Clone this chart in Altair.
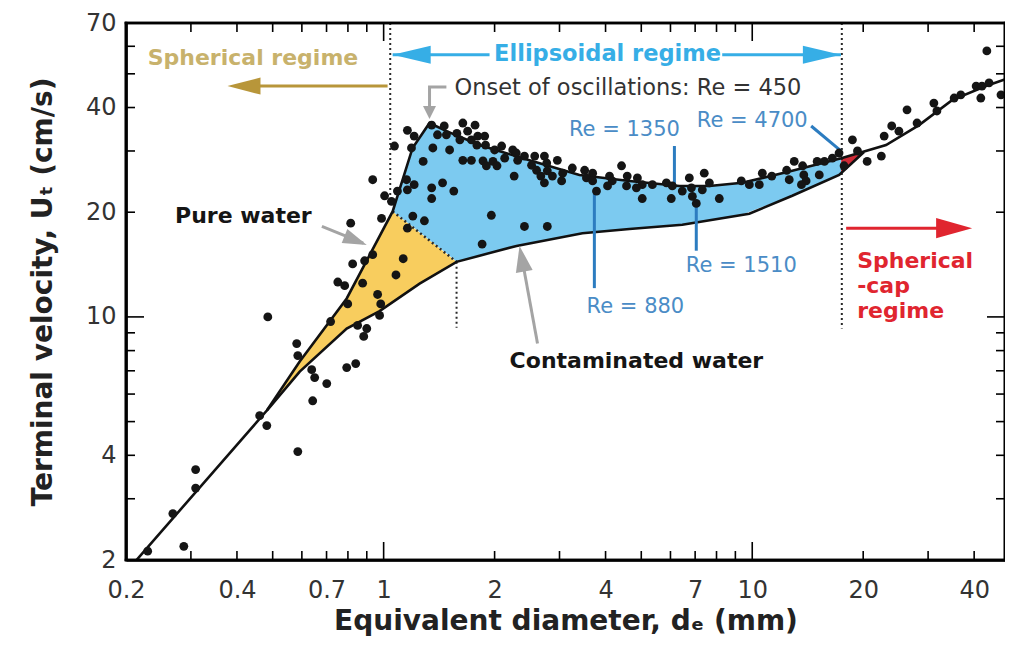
import altair as alt
import pandas as pd

# ---------------- data ----------------
# measured bubbles: equivalent diameter d (mm), terminal velocity U (cm/s)
pts_d = [0.485, 0.581, 0.585, 0.638, 0.650, 0.701, 0.642, 0.794, 0.840, 0.718, 0.799, 0.850, 0.900, 0.883,
         0.461, 0.482, 0.585, 0.309, 0.309, 0.268, 0.287, 0.229,
         0.934, 1.006, 1.05, 1.09, 1.154, 1.21, 1.16, 1.28, 1.35, 1.35, 1.445, 1.55, 1.20, 1.29, 1.16, 0.987,
         0.814, 1.13, 1.08, 0.934, 0.824, 0.888, 0.751, 0.784, 0.877, 0.963, 0.982, 0.975, 1.96, 1.85, 1.64,
         1.73, 1.86, 1.98,
         1.35, 1.46, 1.16, 1.21, 1.07, 1.19, 1.40, 1.48, 1.64, 1.77, 1.58, 1.69, 1.61, 1.73, 1.80, 1.88, 1.79,
         1.89, 1.36, 1.51, 2.0, 2.09, 2.24, 2.29, 2.41, 2.57, 2.73, 2.96, 2.77, 2.52, 2.31, 2.13, 2.03, 1.90,
         2.78, 2.60, 2.67, 2.87, 3.06, 2.73, 3.04, 3.25, 3.51, 3.69, 3.55, 3.69, 3.78, 4.10, 4.17, 4.05, 4.42,
         4.58, 4.88, 5.03, 4.56, 4.85, 5.03, 5.36, 5.85, 6.07, 6.03, 2.26, 2.41, 2.78,
         6.46, 6.75, 6.84, 6.88, 7.05, 7.32, 7.41, 7.65, 8.14, 9.34, 9.82, 10.45, 10.65, 11.3, 12.4, 13.0,
         12.6, 13.7, 13.8, 14.0, 13.6, 15.0, 15.2, 16.5, 17.2, 17.75, 18.7, 19.3,
         20.5, 22.4, 22.8, 23.9, 25.0, 26.3, 28.0, 31.1, 31.7, 35.3, 36.8, 40.5, 42.0, 41.7, 43.3, 43.9, 47.3, 15.7]
pts_u = [10.0, 8.38, 7.74, 7.05, 6.69, 6.43, 5.74, 7.15, 7.34, 9.70, 10.9, 9.45, 9.26, 8.79,
         5.20, 4.87, 4.10, 3.64, 3.22, 2.72, 2.19, 2.12,
         24.8, 22.3, 21.5, 23.0, 24.8, 24.0, 23.2, 28.0, 23.5, 21.9, 24.3, 23.0, 19.5, 18.9, 18.0, 19.2,
         18.6, 14.7, 13.2, 15.1, 14.2, 14.5, 12.6, 12.3, 12.5, 11.6, 10.9, 10.1, 19.6, 16.2, 28.2,
         28.2, 28.1, 28.0,
         35.6, 35.4, 34.4, 33.1, 31.0, 30.6, 33.4, 33.4, 36.1, 35.6, 33.7, 34.2, 32.3, 32.3, 33.1, 33.1, 31.2,
         31.2, 30.6, 30.2, 30.2, 31.0, 30.2, 29.6, 29.0, 29.0, 29.0, 28.2, 27.7, 27.3, 28.2, 28.6, 27.2, 27.2,
         26.3, 26.4, 25.4, 25.4, 25.9, 24.3, 24.6, 26.8, 26.4, 25.9, 25.1, 24.6, 23.0, 25.4, 24.6, 23.8, 27.2,
         25.4, 25.1, 24.0, 23.8, 23.5, 21.9, 24.0, 24.3, 23.8, 21.9, 25.4, 18.2, 18.2,
         23.0, 25.1, 23.5, 22.2, 21.2, 23.2, 25.9, 24.3, 21.9, 24.6, 24.0, 24.0, 25.9, 25.4, 26.4, 28.0,
         24.8, 27.2, 25.6, 24.6, 24.0, 28.0, 25.6, 28.6, 29.6, 27.2, 32.3, 30.0,
         28.0, 29.0, 33.1, 35.4, 34.2, 39.4, 36.1, 41.2, 39.1, 42.6, 43.5, 46.1, 46.1, 42.6, 58.2, 47.1, 43.5, 28.0]

# pure-water curve
pure_d = [0.211, 0.482, 0.592, 0.794, 1.058, 1.198, 1.332, 1.481, 1.820, 2.487, 3.398, 4.642, 6.342, 7.648,
          9.397, 12.84, 17.43, 23.07, 28.35, 34.84, 43.06, 50.0]
pure_u = [1.97, 5.38, 7.44, 11.3, 20.1, 30.6, 36.1, 34.2, 31.2, 28.2, 25.6, 24.6, 23.8, 23.8,
          24.3, 26.3, 28.6, 31.2, 35.6, 42.0, 46.1, 48.7]
# contaminated-water curve
cont_d = [0.482, 0.592, 0.794, 0.975, 1.252, 1.577, 1.820, 2.293, 3.462, 4.642, 6.46, 9.816, 12.84, 17.21, 20.1]
cont_u = [5.38, 6.96, 9.26, 10.39, 12.47, 14.4, 15.0, 16.0, 17.4, 17.9, 18.4, 19.8, 22.3, 25.6, 29.8]

# shaded bands (top / bottom read at common diameters)
yel_d = [0.482, 0.592, 0.794, 0.975, 1.058, 1.252, 1.577]
yel_top = [5.38, 7.44, 11.3, 17.1, 20.1, 17.5, 14.4]
yel_bot = [5.38, 6.96, 9.26, 10.4, 11.0, 12.5, 14.4]
blu_d = [1.058, 1.198, 1.332, 1.481, 1.577, 1.820, 2.487, 3.398, 4.642, 6.342, 7.648, 9.397, 12.84, 17.43]
blu_top = [20.1, 30.6, 36.1, 34.2, 33.3, 31.2, 28.2, 25.6, 24.6, 23.8, 23.8, 24.3, 26.3, 28.6]
blu_bot = [20.1, 18.2, 16.6, 15.25, 14.4, 15.0, 16.3, 17.3, 17.9, 18.3, 18.9, 19.7, 22.3, 25.7]
red_d = [17.43, 19.0, 20.1]
red_top = [28.6, 29.4, 29.8]
red_bot = [25.7, 28.3, 29.8]

# regime boundaries
dot_slant_d = [1.058, 1.577]
dot_slant_u = [20.1, 14.4]
dot_mid_d = [1.577, 1.577]
dot_mid_u = [14.4, 9.3]
dot_left_d = [1.042, 1.042]
dot_left_u = [70, 22.3]
dot_right_d = [17.5, 17.5]
dot_right_u = [70, 9.26]

# axis ticks and labels
X_DOMAIN = [0.2, 48.5]
Y_DOMAIN = [2, 70]
x_labels = [0.2, 0.4, 0.7, 1, 2, 4, 7, 10, 20, 40]
x_minor = [0.3, 0.4, 0.5, 0.6, 0.7, 0.8, 0.9, 2, 3, 4, 5, 6, 7, 8, 9, 20, 30, 40]
x_major = [1, 10]
y_labels = [2, 4, 10, 20, 40, 70]
y_minor = [3, 4, 5, 6, 7, 8, 9, 20, 30, 40, 50, 60]
y_major = [10]

# ---------------- chart ----------------
W, H = 879, 537
FONT = "DejaVu Sans"
xs = alt.Scale(type="log", domain=X_DOMAIN, nice=False)
ys = alt.Scale(type="log", domain=Y_DOMAIN, nice=False)

x_axis = alt.Axis(values=x_labels, format="~g", ticks=False, grid=False,
                  domain=True, domainColor="#000000", domainWidth=2.6,
                  labelFont=FONT, labelFontSize=24, labelColor="#333333", labelPadding=18,
                  labelFlush=False, labelOverlap=False,
                  title="Equivalent diameter, dₑ (mm)", titleFont=FONT, titleFontSize=28,
                  titleFontWeight="bold", titleColor="#222222", titlePadding=5)
y_axis = alt.Axis(values=y_labels, format="~g", ticks=False, grid=False,
                  domain=True, domainColor="#000000", domainWidth=2.6,
                  labelFont=FONT, labelFontSize=24, labelColor="#333333", labelPadding=10,
                  labelOverlap=False,
                  title="Terminal velocity, Uₜ (cm/s)", titleFont=FONT, titleFontSize=28,
                  titleFontWeight="bold", titleColor="#222222", titlePadding=28)


def xe(f="d"):
    return alt.X(f"{f}:Q", scale=xs, axis=x_axis)


def ye(f="u"):
    return alt.Y(f"{f}:Q", scale=ys, axis=y_axis)


def band(ds, top, bot, color):
    df = pd.DataFrame({"d": ds, "top": top, "bot": bot})
    return alt.Chart(df).mark_area(color=color, opacity=1, clip=True).encode(
        x=xe(), y=ye("top"), y2=alt.Y2("bot:Q"))


def line(ds, us, color, width, dash=None):
    df = pd.DataFrame({"d": ds, "u": us, "o": list(range(len(ds)))})
    kw = dict(color=color, strokeWidth=width, clip=True)
    if dash:
        kw["strokeDash"] = dash
    return alt.Chart(df).mark_line(**kw).encode(x=xe(), y=ye(), order="o:Q")


def head(d, u, angle, L, Wd, color):
    path = f"M0,0L-2,{-Wd / L:.3f}L-2,{Wd / L:.3f}Z"
    df = pd.DataFrame({"d": [d], "u": [u]})
    return alt.Chart(df).mark_point(shape=path, size=L * L, filled=True, fill=color,
                                    strokeWidth=0, opacity=1, angle=angle).encode(x=xe(), y=ye())


def label(d, u, text, size, color, weight="normal", align="center", baseline="middle"):
    df = pd.DataFrame({"d": [d], "u": [u]})
    return alt.Chart(df).mark_text(text=text, font=FONT, fontSize=size, fontWeight=weight,
                                   color=color, align=align, baseline=baseline).encode(x=xe(), y=ye())


def xticks(vals, L):
    df = pd.DataFrame({"d": vals})
    b = alt.Chart(df).mark_rule(color="black", strokeWidth=1.6)
    return [b.encode(x=xe(), y=alt.value(H), y2=alt.value(H - L)),
            b.encode(x=xe(), y=alt.value(0), y2=alt.value(L))]


def yticks(vals, L):
    df = pd.DataFrame({"u": vals})
    b = alt.Chart(df).mark_rule(color="black", strokeWidth=1.6)
    return [b.encode(y=ye(), x=alt.value(0), x2=alt.value(L)),
            b.encode(y=ye(), x=alt.value(W), x2=alt.value(W - L))]


def frame():
    # box drawn at the ends of the two scale domains
    vx = alt.Chart(pd.DataFrame({"d": X_DOMAIN})).mark_rule(color="#000000", strokeWidth=2.6)
    hy = alt.Chart(pd.DataFrame({"u": Y_DOMAIN})).mark_rule(color="#000000", strokeWidth=2.6)
    return [vx.encode(x=xe(), y=alt.value(-1.3), y2=alt.value(H + 1.3)),
            hy.encode(y=ye(), x=alt.value(-1.3), x2=alt.value(W + 1.3))]


pts = alt.Chart(pd.DataFrame({"d": pts_d, "u": pts_u})).mark_circle(
    size=78, color="#151515", opacity=1, clip=True).encode(x=xe(), y=ye())

GRAY = "#a4a4a4"
BLUE_T = "#4a8cc6"
BLUE_L = "#2c7cc0"
SKY = "#36aee6"
GOLD = "#b8963a"
RED = "#e0252f"

layers = [
    band(yel_d, yel_top, yel_bot, "#f8cd5e"),
    band(blu_d, blu_top, blu_bot, "#7ccaf0"),
    band(red_d, red_top, red_bot, "#cf2a36"),
    line(dot_slant_d, dot_slant_u, "#2a2a2a", 2.5, [2, 3]),
    line(dot_mid_d, dot_mid_u, "#2a2a2a", 2, [2, 3]),
    line(dot_left_d, dot_left_u, "#2a2a2a", 2, [2, 3]),
    line(dot_right_d, dot_right_u, "#2a2a2a", 2, [2, 3]),
    line(pure_d, pure_u, "#111111", 2.6),
    line(cont_d, cont_u, "#111111", 2.6),
    # Reynolds-number markers
    line([6.15, 6.15], [31.0, 23.8], BLUE_L, 3),
    line([3.73, 3.73], [23.5, 12.1], BLUE_L, 3),
    line([7.05, 7.05], [20.9, 15.5], BLUE_L, 3),
    line([14.45, 17.4], [35.4, 30.0], BLUE_L, 3),
    pts,
    # regime arrows
    line([1.025, 0.40], [46.1, 46.1], GOLD, 3),
    head(0.377, 46.1, 180, 33, 17, GOLD),
    line([1.058, 1.938], [56.7, 56.7], SKY, 3),
    line([8.29, 17.4], [56.7, 56.7], SKY, 3),
    head(1.058, 56.7, 180, 38, 18, SKY),
    head(17.4, 56.7, 0, 38, 18, SKY),
    line([17.98, 36.0], [18.0, 18.0], RED, 3),
    head(39.5, 18.0, 0, 36, 20, RED),
    # pointer arrows
    line([1.48, 1.332, 1.332], [45.8, 45.8, 39.5], GRAY, 3),
    head(1.332, 37.1, 90, 13, 13, GRAY),
    line([0.680, 0.88], [18.2, 16.3], GRAY, 3),
    head(0.900, 16.1, 22, 24, 15, GRAY),
    line([2.615, 2.36], [8.39, 15.2], GRAY, 3),
    head(2.337, 16.0, 259.5, 26, 17, GRAY),
    # texts
    label(0.229, 55.6, "Spherical regime", 22, "#c8b26c", "bold", "left"),
    label(4.05, 57.1, "Ellipsoidal regime", 22.5, SKY, "bold"),
    label(1.557, 45.5, "Onset of oscillations: Re = 450", 22.5, "#333333", "normal", "left"),
    label(4.50, 34.4, "Re = 1350", 21, BLUE_T),
    label(10.0, 36.6, "Re = 4700", 21, BLUE_T),
    label(4.82, 10.7, "Re = 880", 21, BLUE_T),
    label(9.34, 14.0, "Re = 1510", 21, BLUE_T),
    label(0.638, 19.5, "Pure water", 22, "#151515", "bold", "right"),
    label(4.85, 7.45, "Contaminated water", 22, "#151515", "bold"),
    label(19.26, 14.5, "Spherical", 22, RED, "bold", "left"),
    label(19.26, 12.3, "-cap", 22, RED, "bold", "left"),
    label(19.26, 10.4, "regime", 22, RED, "bold", "left"),
]
layers += xticks(x_minor, 9) + xticks(x_major, 18) + yticks(y_minor, 9) + yticks(y_major, 18)
layers += frame()

chart = alt.layer(*layers).properties(
    width=W, height=H,
    autosize=alt.AutoSizeParams(type="none"),
    padding={"left": 118, "top": 15, "right": 0, "bottom": 82},
).configure(font=FONT).configure_view(stroke="#000000", strokeWidth=2.6)

chart.save("out.html", embed_options={"renderer": "svg", "actions": False})
